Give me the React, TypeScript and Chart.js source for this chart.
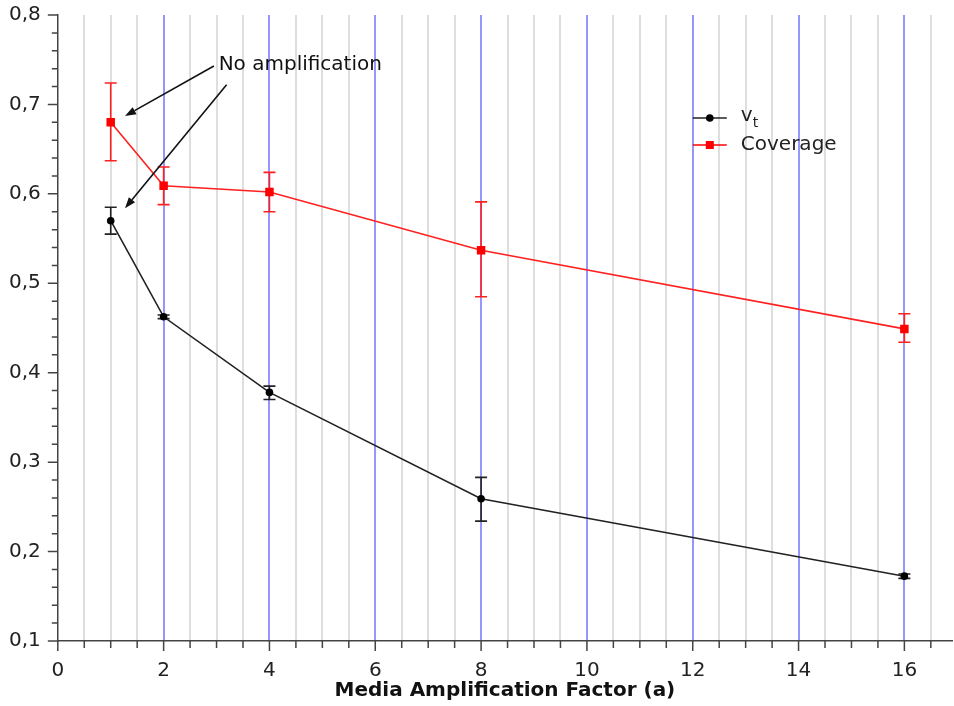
import React, { useEffect, useRef } from 'react';
import { Chart, registerables } from 'chart.js';

Chart.register(...registerables);

// ---- data ----
const amplification = [1, 2, 4, 8, 16];
const vtMean = [0.570, 0.4625, 0.378, 0.259, 0.1725];
const vtLow = [0.555, 0.4605, 0.370, 0.234, 0.170];
const vtHigh = [0.585, 0.4645, 0.385, 0.283, 0.175];
const coverageMean = [0.680, 0.609, 0.602, 0.537, 0.449];
const coverageLow = [0.637, 0.588, 0.580, 0.485, 0.434];
const coverageHigh = [0.724, 0.630, 0.624, 0.591, 0.466];
const xLabelTicks = [0, 2, 4, 6, 8, 10, 12, 14, 16];
const yLabelTicks = [0.1, 0.2, 0.3, 0.4, 0.5, 0.6, 0.7, 0.8];
const xAxisTitle = 'Media Amplification Factor (a)';
const annotationText = 'No amplification';
const annotationTextAt = [3.04, 0.744];
const arrowStarts = [[2.95, 0.743], [3.19, 0.722]];
const arrowEnds = [[1.27, 0.687], [1.27, 0.584]];

const FONT = "'DejaVu Sans', sans-serif";

const isLabelX = (v: number) => xLabelTicks.some((t) => Math.abs(t - v) < 1e-6);
const isLabelY = (v: number) => yLabelTicks.some((t) => Math.abs(t - v) < 1e-6);

const errorBarPlugin = {
  id: 'errorBars',
  beforeDatasetsDraw(chart: any) {
    const { ctx, scales } = chart;
    const sets = [
      { low: vtLow, high: vtHigh, color: '#222222' },
      { low: coverageLow, high: coverageHigh, color: '#ff2020' },
    ];
    ctx.save();
    sets.forEach((s) => {
      ctx.strokeStyle = s.color;
      ctx.lineWidth = 1.6;
      amplification.forEach((a, i) => {
        const x = scales.x.getPixelForValue(a);
        const y1 = scales.y.getPixelForValue(s.low[i]);
        const y2 = scales.y.getPixelForValue(s.high[i]);
        ctx.beginPath();
        ctx.moveTo(x, y1);
        ctx.lineTo(x, y2);
        ctx.moveTo(x - 6, y1);
        ctx.lineTo(x + 6, y1);
        ctx.moveTo(x - 6, y2);
        ctx.lineTo(x + 6, y2);
        ctx.stroke();
      });
    });
    ctx.restore();
  },
};

const tickMarksPlugin = {
  id: 'tickMarks',
  afterDraw(chart: any) {
    const { ctx, scales, chartArea } = chart;
    ctx.save();
    ctx.strokeStyle = '#444';
    ctx.lineWidth = 1.5;
    ctx.beginPath();
    scales.x.ticks.forEach((t: any) => {
      const x = scales.x.getPixelForValue(t.value);
      const len = isLabelX(t.value) ? 10 : 7;
      ctx.moveTo(x, chartArea.bottom);
      ctx.lineTo(x, chartArea.bottom + len);
    });
    scales.y.ticks.forEach((t: any) => {
      const y = scales.y.getPixelForValue(t.value);
      const len = isLabelY(t.value) ? 10 : 6;
      ctx.moveTo(chartArea.left, y);
      ctx.lineTo(chartArea.left - len, y);
    });
    ctx.stroke();
    ctx.restore();
  },
};

const overlayPlugin = {
  id: 'overlay',
  afterDatasetsDraw(chart: any) {
    const { ctx, scales, chartArea } = chart;
    ctx.save();
    // annotation
    ctx.fillStyle = '#111';
    ctx.font = `20px ${FONT}`;
    ctx.textBaseline = 'middle';
    ctx.textAlign = 'left';
    ctx.fillText(
      annotationText,
      scales.x.getPixelForValue(annotationTextAt[0]),
      scales.y.getPixelForValue(annotationTextAt[1])
    );
    ctx.strokeStyle = '#111';
    ctx.lineWidth = 1.6;
    arrowStarts.forEach((s, i) => {
      const x1 = scales.x.getPixelForValue(s[0]);
      const y1 = scales.y.getPixelForValue(s[1]);
      const x2 = scales.x.getPixelForValue(arrowEnds[i][0]);
      const y2 = scales.y.getPixelForValue(arrowEnds[i][1]);
      const ang = Math.atan2(y2 - y1, x2 - x1);
      const hl = 11;
      const hw = 4;
      const bx = x2 - hl * Math.cos(ang);
      const by = y2 - hl * Math.sin(ang);
      ctx.beginPath();
      ctx.moveTo(x1, y1);
      ctx.lineTo(bx, by);
      ctx.stroke();
      ctx.beginPath();
      ctx.moveTo(x2, y2);
      ctx.lineTo(bx + hw * Math.sin(ang), by - hw * Math.cos(ang));
      ctx.lineTo(bx - hw * Math.sin(ang), by + hw * Math.cos(ang));
      ctx.closePath();
      ctx.fillStyle = '#111';
      ctx.fill();
    });

    // legend
    const lx = chartArea.left + 635;
    const ly = chartArea.top + 103;
    const rows = [
      { color: '#222222', marker: 'circle' },
      { color: '#ff0000', marker: 'rect' },
    ];
    rows.forEach((r, i) => {
      const y = ly + i * 27;
      ctx.strokeStyle = r.color;
      ctx.lineWidth = 1.6;
      ctx.beginPath();
      ctx.moveTo(lx, y);
      ctx.lineTo(lx + 34, y);
      ctx.stroke();
      ctx.fillStyle = r.marker === 'circle' ? '#000' : '#ff0000';
      if (r.marker === 'circle') {
        ctx.beginPath();
        ctx.arc(lx + 17, y, 3.8, 0, Math.PI * 2);
        ctx.fill();
      } else {
        ctx.fillRect(lx + 13, y - 4, 8, 8);
      }
    });
    ctx.fillStyle = '#222';
    ctx.textBaseline = 'middle';
    ctx.font = `20px ${FONT}`;
    ctx.fillText('v', lx + 48, ly - 2);
    const vw = ctx.measureText('v').width;
    ctx.font = `14px ${FONT}`;
    ctx.fillText('t', lx + 48 + vw, ly + 5);
    ctx.font = `20px ${FONT}`;
    ctx.fillText('Coverage', lx + 48, ly + 27);
    ctx.restore();
  },
};

export default function App() {
  const ref = useRef<HTMLCanvasElement | null>(null);
  useEffect(() => {
    if (!ref.current) return;
    Chart.defaults.font.family = FONT;
    const chart = new Chart(ref.current, {
      type: 'line',
      data: {
        datasets: [
          {
            label: 'vt',
            data: amplification.map((a, i) => ({ x: a, y: vtMean[i] })),
            borderColor: '#222222',
            backgroundColor: '#000000',
            borderWidth: 1.6,
            pointStyle: 'circle',
            pointRadius: 3.8,
            pointBorderWidth: 0,
            tension: 0,
          },
          {
            label: 'Coverage',
            data: amplification.map((a, i) => ({ x: a, y: coverageMean[i] })),
            borderColor: '#ff2020',
            backgroundColor: '#ff0000',
            borderWidth: 1.6,
            pointStyle: 'rect',
            pointRadius: 6,
            pointBorderWidth: 0,
            tension: 0,
          },
        ],
      },
      options: {
        responsive: false,
        animation: false,
        layout: { autoPadding: false, padding: { left: 0, right: 2, top: 15, bottom: 0 } },
        plugins: { legend: { display: false }, tooltip: { enabled: false } },
        scales: {
          x: {
            type: 'linear',
            min: 0,
            max: 16.9,
            afterFit: (scale: any) => {
              scale.paddingLeft = 0;
              scale.paddingRight = 0;
            },
            ticks: {
              stepSize: 0.5,
              includeBounds: false,
              autoSkip: false,
              maxRotation: 0,
              padding: 10,
              color: '#222',
              font: { size: 20 },
              callback: (v: any) => (isLabelX(Number(v)) ? String(v) : ''),
            },
            grid: {
              drawOnChartArea: true,
              color: (ctx: any) => {
                const v = ctx.tick ? ctx.tick.value : 0;
                if (Math.abs(v) < 1e-9) return 'rgba(0,0,0,0)';
                return Math.abs(v / 2 - Math.round(v / 2)) < 1e-9 ? 'rgb(150,150,255)' : 'rgb(222,222,222)';
              },
              lineWidth: 2,
              tickColor: 'rgba(0,0,0,0)',
              tickWidth: 1.5,
              tickLength: 8,
            },
            border: { display: true, color: '#444', width: 1.5 },
            title: {
              display: true,
              text: xAxisTitle,
              color: '#111',
              font: { size: 20, weight: 'bold' },
              padding: { top: -14, bottom: 3 },
            },
          },
          y: {
            type: 'linear',
            min: 0.1,
            max: 0.8,
            afterFit: (scale: any) => {
              scale.paddingTop = 0;
              scale.paddingBottom = 0;
            },
            ticks: {
              stepSize: 0.02,
              autoSkip: false,
              padding: 9,
              color: '#222',
              font: { size: 20 },
              callback: (v: any) => (isLabelY(Number(v)) ? Number(v).toFixed(1).replace('.', ',') : ''),
            },
            grid: {
              drawOnChartArea: false,
              tickColor: 'rgba(0,0,0,0)',
              tickWidth: 1.5,
              tickLength: 8,
            },
            border: { display: true, color: '#444', width: 1.5 },
          },
        },
      },
      plugins: [errorBarPlugin, overlayPlugin, tickMarksPlugin],
    } as any);
    return () => chart.destroy();
  }, []);
  return (
    <div style={{ position: 'absolute', left: 0, top: 0, width: 954, height: 706, background: '#fff' }}>
      <canvas ref={ref} width={954} height={706} style={{ display: 'block' }} />
    </div>
  );
}
